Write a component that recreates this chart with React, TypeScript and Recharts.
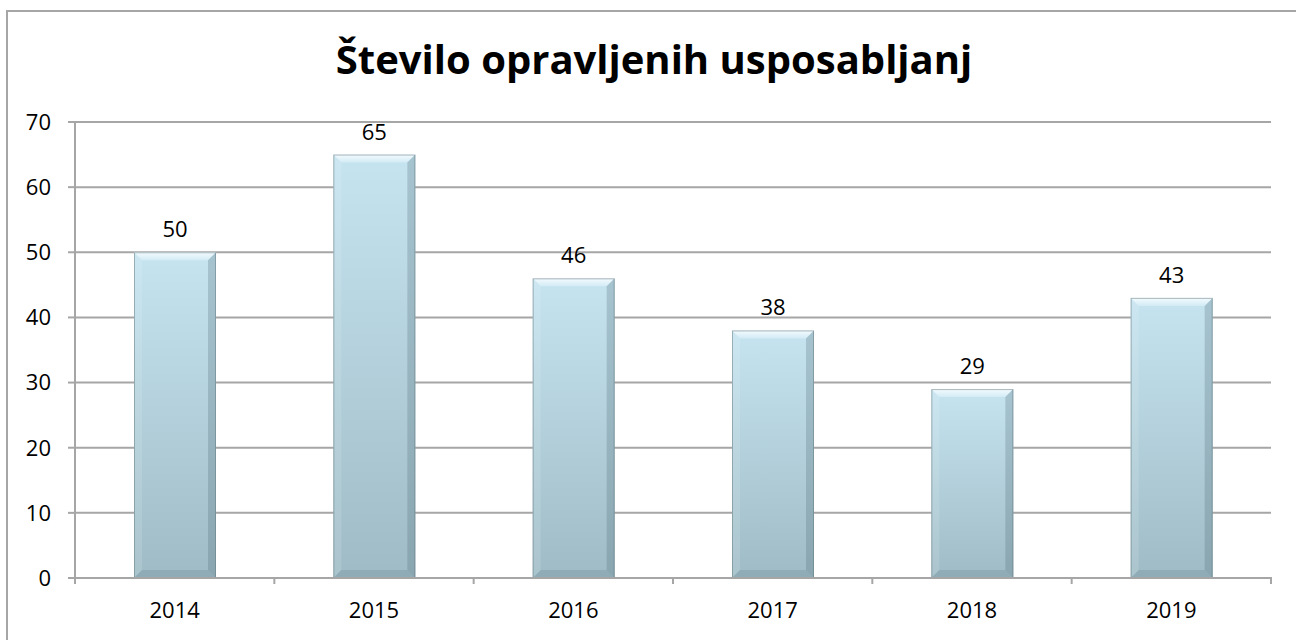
import { BarChart, Bar, XAxis, YAxis, CartesianGrid, LabelList } from 'recharts';

const years = ['2014', '2015', '2016', '2017', '2018', '2019'];
const counts = [50, 65, 46, 38, 29, 43];
const yTicks = [0, 10, 20, 30, 40, 50, 60, 70];

const data = years.map((year, i) => ({ year, count: counts[i] }));

const W = 1296;
const H = 640;
const LEFT = 75;
const RIGHT = 25;
const TOP = 122;
const XAXIS_H = 62;
const AXIS = '#a6a6a6';
const FONT = '"Open Sans", sans-serif';

// Excel-style bevelled column
function BevelBar(props: any) {
  const { x, y, width: w, height: h } = props;
  if (!h || h <= 0) return null;
  const b = 8;
  return (
    <g>
      <rect x={x} y={y} width={w} height={h} fill="url(#barGrad)" />
      <polygon points={`${x},${y} ${x + w},${y} ${x + w - b},${y + b} ${x + b},${y + b}`} fill="url(#topBevel)" />
      <polygon points={`${x},${y} ${x + b},${y + b} ${x + b},${y + h - b} ${x},${y + h}`} fill="rgba(255,255,255,0.12)" />
      <polygon points={`${x + w},${y} ${x + w - b},${y + b} ${x + w - b},${y + h - b} ${x + w},${y + h}`} fill="rgba(70,100,110,0.25)" />
      <polygon points={`${x},${y + h} ${x + b},${y + h - b} ${x + w - b},${y + h - b} ${x + w},${y + h}`} fill="rgba(70,100,110,0.18)" />
      <rect x={x + 0.5} y={y + 0.5} width={w - 1} height={h - 1} fill="none" stroke="rgba(100,120,125,0.5)" strokeWidth={1} />
    </g>
  );
}

// category ticks sit between columns, like Excel
function YearTick(props: any) {
  const { x, y, payload, index } = props;
  const band = (W - LEFT - RIGHT) / years.length;
  const axisY = y - 25;
  return (
    <g>
      <line x1={x - band / 2} y1={axisY} x2={x - band / 2} y2={axisY + 7} stroke={AXIS} strokeWidth={2} />
      {index === years.length - 1 && (
        <line x1={x + band / 2} y1={axisY} x2={x + band / 2} y2={axisY + 7} stroke={AXIS} strokeWidth={2} />
      )}
      <text x={x} y={y} textAnchor="middle" dy="0.71em" fontSize={22} fill="#000" fontFamily={FONT}>
        {payload.value}
      </text>
    </g>
  );
}

export default function App() {
  return (
    <div style={{ position: 'absolute', left: 0, top: 0, width: W, height: H, overflow: 'hidden', background: '#fff', fontFamily: FONT }}>
      <div style={{ position: 'absolute', left: 6, top: 10, width: W + 20, height: H + 20, border: '2px solid #a6a6a6', boxSizing: 'border-box' }} />
      <div style={{ position: 'absolute', left: 0, top: 0 }}>
        <BarChart width={W} height={H} data={data} margin={{ top: TOP, right: RIGHT, bottom: 0, left: 0 }} barSize={82}>
          <defs>
            <linearGradient id="barGrad" x1="0" y1="0" x2="0" y2="1">
              <stop offset="0%" stopColor="#c6e4f0" />
              <stop offset="100%" stopColor="#9fbcc6" />
            </linearGradient>
            <linearGradient id="topBevel" x1="0" y1="0" x2="0" y2="1">
              <stop offset="0%" stopColor="#f4fbfe" />
              <stop offset="100%" stopColor="#d2ebf5" />
            </linearGradient>
          </defs>
          <text x={654} y={74} textAnchor="middle" fontSize={40} fontWeight={700} fill="#000" fontFamily={FONT}>
            Število opravljenih usposabljanj
          </text>
          <CartesianGrid vertical={false} stroke={AXIS} strokeWidth={2} />
          <XAxis
            dataKey="year"
            height={XAXIS_H}
            stroke={AXIS}
            strokeWidth={2}
            tickLine={false}
            tick={<YearTick />}
            tickMargin={18}
            interval={0}
          />
          <YAxis
            width={LEFT}
            domain={[0, 70]}
            ticks={yTicks}
            interval={0}
            stroke={AXIS}
            strokeWidth={2}
            tickSize={7}
            tickMargin={17}
            tick={{ fontSize: 22, fill: '#000', fontFamily: FONT }}
          />
          <Bar dataKey="count" shape={<BevelBar />} isAnimationActive={false}>
            <LabelList dataKey="count" position="top" offset={15} fontSize={22} fill="#000" fontFamily={FONT} />
          </Bar>
        </BarChart>
      </div>
    </div>
  );
}
